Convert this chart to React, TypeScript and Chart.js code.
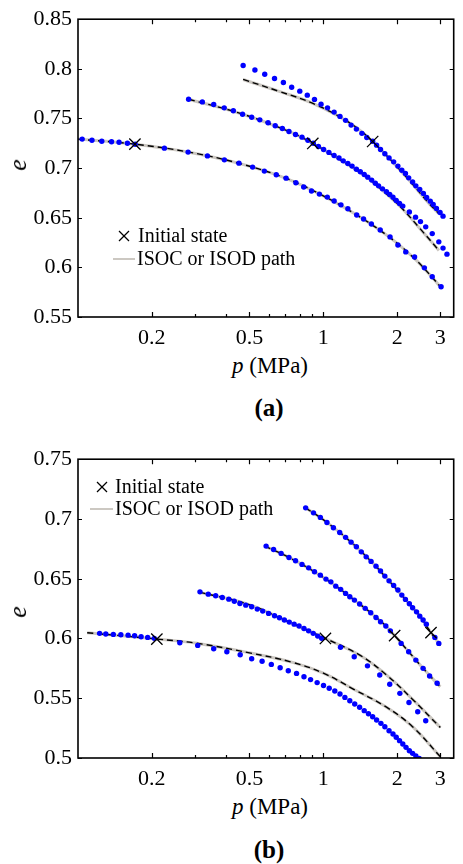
import React, { useEffect, useRef } from 'react';
import { Chart, registerables } from 'chart.js';
Chart.register(...registerables);

const FONT = "'Liberation Serif', Tinos, 'Times New Roman', 'DejaVu Serif', serif";
const BLUE = '#0000ff';
const GRAY = 'rgb(204,200,194)';

// ---------- axes ----------
const X_MIN = 0.1;
const X_MAX = 3.4;
const X_TICKS = [0.2, 0.3, 0.4, 0.5, 0.6, 0.7, 0.8, 0.9, 1, 2, 3];
const X_LABELED = [0.2, 0.5, 1, 2, 3];
const YA_TICKS = [0.55, 0.6, 0.65, 0.7, 0.75, 0.8, 0.85];
const YB_TICKS = [0.5, 0.55, 0.6, 0.65, 0.7, 0.75];

// ---------- panel (a) ----------
const A1_P = [0.104, 0.114, 0.125, 0.137, 0.147, 0.159, 0.171, 0.225, 0.281, 0.337, 0.395, 0.453, 0.515, 0.575, 0.643, 0.705, 0.773, 0.832, 0.895, 0.964, 1.038, 1.107, 1.18, 1.259, 1.368, 1.459, 1.57, 1.706, 1.871, 2.014, 2.168, 2.355, 2.582, 2.78, 3.02];
const A1_E = [0.7292, 0.7281, 0.7271, 0.7266, 0.7261, 0.7251, 0.7241, 0.7201, 0.7161, 0.7123, 0.7083, 0.705, 0.701, 0.697, 0.6933, 0.6899, 0.6852, 0.6809, 0.6769, 0.6738, 0.6708, 0.6668, 0.663, 0.659, 0.6527, 0.6487, 0.6437, 0.6377, 0.6307, 0.6226, 0.6156, 0.6105, 0.5995, 0.5906, 0.5805];
const A1_LP = [0.1, 0.1706, 0.28, 0.45, 0.7, 1.0, 1.37, 1.87, 2.35, 2.8, 3.02];
const A1_LE = [0.7292, 0.7241, 0.7163, 0.705, 0.69, 0.672, 0.6527, 0.63, 0.609, 0.589, 0.5795];

const A2_P = [0.2824, 0.3212, 0.3574, 0.3945, 0.4297, 0.4686, 0.5105, 0.551, 0.5954, 0.6368, 0.6808, 0.7244, 0.7704, 0.8187, 0.8653, 0.91, 0.955, 1.0028, 1.0539, 1.1066, 1.1588, 1.2056, 1.2589, 1.3098, 1.364, 1.4152, 1.4683, 1.5178, 1.5747, 1.6293, 1.6796, 1.7426, 1.8079, 1.8655, 1.9231, 1.9825, 2.0455, 2.1086, 2.2426, 2.3768, 2.4889, 2.6144, 2.7797, 2.9566, 3.0761, 3.1915];
const A2_E = [0.7694, 0.7667, 0.7641, 0.7607, 0.7577, 0.7543, 0.7513, 0.7486, 0.7457, 0.7427, 0.7399, 0.7369, 0.7339, 0.7312, 0.7281, 0.725, 0.7218, 0.7188, 0.7158, 0.7127, 0.7101, 0.7073, 0.7047, 0.702, 0.6989, 0.6963, 0.6936, 0.6909, 0.6879, 0.6848, 0.6821, 0.6791, 0.6761, 0.6735, 0.6707, 0.6674, 0.6644, 0.6617, 0.6559, 0.6506, 0.6461, 0.6408, 0.634, 0.6257, 0.6194, 0.6133];
const A2_LP = [0.283, 0.47, 0.7244, 0.906, 1.2, 1.5, 1.8, 2.1, 2.5, 2.96];
const A2_LE = [0.7694, 0.7543, 0.7369, 0.7248, 0.7068, 0.691, 0.6745, 0.659, 0.638, 0.617];

const A3_P = [0.4712, 0.5262, 0.5771, 0.6326, 0.6875, 0.743, 0.8017, 0.8604, 0.9204, 0.979, 1.0404, 1.1066, 1.1695, 1.2325, 1.2977, 1.364, 1.4362, 1.5038, 1.589, 1.649, 1.7108, 1.7815, 1.8535, 1.9355, 2.0137, 2.0893, 2.1618, 2.2284, 2.3121, 2.3835, 2.4729, 2.5586, 2.6376, 2.729, 2.8054, 2.892, 2.9923, 3.0761];
const A3_E = [0.8034, 0.7989, 0.7946, 0.7903, 0.7863, 0.7815, 0.7775, 0.7735, 0.7692, 0.7644, 0.7607, 0.7564, 0.7521, 0.7481, 0.7433, 0.7393, 0.735, 0.7309, 0.727, 0.7231, 0.7188, 0.7144, 0.7103, 0.7063, 0.702, 0.6979, 0.6946, 0.6902, 0.6861, 0.6821, 0.6785, 0.6745, 0.6704, 0.6667, 0.6634, 0.6594, 0.6553, 0.6516];
const A3_LP = [0.4712, 0.6565, 0.9204, 1.2906, 1.589, 2.1737, 2.6966, 2.9566];
const A3_LE = [0.7893, 0.7775, 0.7645, 0.745, 0.7268, 0.6912, 0.6644, 0.6543];

const A_CROSS_P = [0.1706, 0.906, 1.589];
const A_CROSS_E = [0.7241, 0.7248, 0.7268];

// ---------- panel (b) ----------
const B1_P = [0.1225, 0.1298, 0.1393, 0.1495, 0.16, 0.1701, 0.1808, 0.1923, 0.2046, 0.26, 0.3076, 0.3574, 0.4044, 0.4583, 0.5105, 0.563, 0.6138, 0.6668, 0.7197, 0.7778, 0.834, 0.8872, 0.9437, 1.0018, 1.0568, 1.1137, 1.1695, 1.2246, 1.2823, 1.3428, 1.406, 1.4683, 1.5276, 1.5889, 1.649, 1.7172, 1.7815, 1.8535, 1.9231, 1.9825, 2.0455, 2.1086, 2.1737, 2.2426, 2.3121, 2.3835, 2.4593];
const B1_E = [0.6043, 0.6037, 0.6034, 0.6031, 0.6028, 0.6023, 0.6014, 0.6009, 0.6001, 0.5964, 0.5942, 0.5914, 0.5889, 0.5864, 0.583, 0.5809, 0.5783, 0.5755, 0.573, 0.5708, 0.568, 0.5656, 0.5631, 0.5606, 0.5583, 0.556, 0.5535, 0.5507, 0.5479, 0.5452, 0.5424, 0.5396, 0.537, 0.5345, 0.5318, 0.529, 0.5262, 0.5228, 0.5201, 0.5173, 0.5145, 0.5117, 0.5089, 0.5061, 0.5039, 0.5017, 0.4997];
const B1_LP = [0.109, 0.21, 0.3, 0.5, 0.75, 1.0, 1.33, 1.81, 2.31, 3.0];
const B1_LE = [0.6048, 0.5995, 0.5962, 0.588, 0.58, 0.571, 0.5575, 0.5425, 0.5262, 0.5011];

const B2_P = [0.3142, 0.3396, 0.3641, 0.3873, 0.4119, 0.4337, 0.4571, 0.4831, 0.5105, 0.5381, 0.5662, 0.5984, 0.6326, 0.6625, 0.6937, 0.7264, 0.7606, 0.7964, 0.834, 0.871, 0.9095, 0.9489, 0.9845, 1.1749, 1.3366, 1.5136, 1.6982, 1.8655, 2.0512, 2.2346, 2.4255, 2.6144];
const B2_E = [0.639, 0.6371, 0.6357, 0.6343, 0.6329, 0.6312, 0.6293, 0.6279, 0.6265, 0.6246, 0.6229, 0.621, 0.619, 0.6173, 0.6154, 0.6137, 0.612, 0.6104, 0.6084, 0.6064, 0.6043, 0.602, 0.6001, 0.5926, 0.5847, 0.5771, 0.5694, 0.5617, 0.5541, 0.5464, 0.5387, 0.5312];
const B2_LP = [0.3124, 0.495, 0.72, 1.02, 1.4152, 1.8079, 2.3121, 3.0];
const B2_LE = [0.6388, 0.6285, 0.614, 0.6, 0.5858, 0.5695, 0.549, 0.5255];

const B3_P = [0.5845, 0.6269, 0.673, 0.7244, 0.7704, 0.8187, 0.871, 0.9204, 0.9727, 1.0252, 1.0735, 1.124, 1.177, 1.2325, 1.2823, 1.3391, 1.406, 1.4819, 1.5603, 1.6399, 1.7108, 1.798, 1.8761, 2.0763, 2.2284, 2.3835, 2.5515, 2.7116, 2.9107];
const B3_E = [0.6773, 0.6745, 0.6712, 0.6678, 0.665, 0.662, 0.6591, 0.6558, 0.653, 0.6497, 0.6474, 0.6438, 0.6411, 0.6377, 0.6349, 0.6321, 0.6288, 0.6252, 0.6215, 0.6176, 0.614, 0.6104, 0.6064, 0.5959, 0.5889, 0.5819, 0.575, 0.5686, 0.5625];
const B3_LP = [0.5771, 0.7244, 0.9204, 1.124, 1.3391, 1.5603, 1.798, 1.953, 2.2284, 2.5515, 3.0];
const B3_LE = [0.6773, 0.6678, 0.6558, 0.6438, 0.6321, 0.6215, 0.6104, 0.6024, 0.5889, 0.575, 0.5595];

const B4_P = [0.8472, 0.912, 0.9727, 1.0347, 1.0995, 1.1663, 1.2325, 1.2977, 1.364, 1.4283, 1.4955, 1.5657, 1.6399, 1.7108, 1.7815, 1.8535, 1.9355, 2.0137, 2.0893, 2.1618, 2.2426, 2.3121, 2.3988, 2.4729, 2.5515, 2.6303, 2.8497, 2.9566];
const B4_E = [0.7093, 0.7051, 0.7013, 0.6971, 0.6926, 0.6887, 0.6846, 0.6806, 0.6767, 0.6725, 0.6683, 0.6645, 0.6605, 0.6564, 0.6522, 0.6482, 0.6444, 0.6405, 0.6363, 0.6327, 0.629, 0.6257, 0.6223, 0.6187, 0.6154, 0.612, 0.6009, 0.5959];
const B4_LP = [0.8472, 1.0347, 1.2977, 1.5657, 1.8535, 2.1618, 2.4729, 2.747, 3.0];
const B4_LE = [0.7093, 0.6971, 0.6806, 0.6645, 0.6482, 0.6327, 0.6187, 0.6049, 0.594];

const B_CROSS_P = [0.2096, 1.02, 1.953, 2.747];
const B_CROSS_E = [0.5995, 0.6, 0.6024, 0.6049];

type Curve = { dp: number[]; de: number[]; lp: number[]; le: number[] };

const CURVES_A: Curve[] = [
  { dp: A1_P, de: A1_E, lp: A1_LP, le: A1_LE },
  { dp: A2_P, de: A2_E, lp: A2_LP, le: A2_LE },
  { dp: A3_P, de: A3_E, lp: A3_LP, le: A3_LE },
];
const CURVES_B: Curve[] = [
  { dp: B1_P, de: B1_E, lp: B1_LP, le: B1_LE },
  { dp: B2_P, de: B2_E, lp: B2_LP, le: B2_LE },
  { dp: B3_P, de: B3_E, lp: B3_LP, le: B3_LE },
  { dp: B4_P, de: B4_E, lp: B4_LP, le: B4_LE },
];

const toPts = (p: number[], e: number[]) => p.map((x, i) => ({ x, y: e[i] }));

const frameTicks = {
  id: 'frameTicks',
  afterDraw(chart: any) {
    const ctx = chart.ctx;
    const a = chart.chartArea;
    const xs = chart.scales.x;
    const ys = chart.scales.y;
    ctx.save();
    ctx.strokeStyle = '#000';
    ctx.lineWidth = 1.2;
    ctx.beginPath();
    for (const v of X_TICKS) {
      const px = Math.round(xs.getPixelForValue(v)) + 0.5;
      const len = X_LABELED.includes(v) ? 5 : 3;
      ctx.moveTo(px, a.bottom);
      ctx.lineTo(px, a.bottom - len);
      ctx.moveTo(px, a.top);
      ctx.lineTo(px, a.top + len);
    }
    for (const t of ys.ticks) {
      const py = Math.round(ys.getPixelForValue(t.value)) + 0.5;
      ctx.moveTo(a.left, py);
      ctx.lineTo(a.left + 4, py);
      ctx.moveTo(a.right, py);
      ctx.lineTo(a.right - 4, py);
    }
    ctx.stroke();
    ctx.lineWidth = 1.6;
    ctx.strokeRect(a.left, a.top, a.right - a.left, a.bottom - a.top);
    ctx.restore();
  },
};

function Panel(props: {
  top: number;
  height: number;
  curves: Curve[];
  crossP: number[];
  crossE: number[];
  yMin: number;
  yMax: number;
  yTicks: number[];
}) {
  const ref = useRef<HTMLCanvasElement>(null);
  useEffect(() => {
    if (!ref.current) return;
    const datasets: any[] = [];
    props.curves.forEach((c) =>
      datasets.push({
        data: toPts(c.lp, c.le),
        showLine: true,
        borderColor: GRAY,
        borderWidth: 3,
        pointRadius: 0,
        tension: 0.4,
        order: 4,
      })
    );
    props.curves.forEach((c) =>
      datasets.push({
        data: toPts(c.lp, c.le),
        showLine: true,
        borderColor: '#000',
        borderWidth: 1.4,
        borderDash: [6, 4],
        pointRadius: 0,
        tension: 0.4,
        order: 3,
      })
    );
    props.curves.forEach((c) =>
      datasets.push({
        data: toPts(c.dp, c.de),
        showLine: false,
        pointRadius: 2.7,
        pointBackgroundColor: BLUE,
        pointBorderWidth: 0,
        order: 2,
      })
    );
    datasets.push({
      data: toPts(props.crossP, props.crossE),
      showLine: false,
      pointStyle: 'crossRot',
      pointRadius: 8,
      pointBorderColor: '#000',
      pointBorderWidth: 1.3,
      order: 1,
    });
    const chart = new Chart(ref.current, {
      type: 'scatter',
      data: { datasets },
      plugins: [frameTicks],
      options: {
        animation: false,
        responsive: false,
        layout: { padding: { top: 19, right: 1, left: 0, bottom: 0 } },
        plugins: { legend: { display: false }, tooltip: { enabled: false } },
        scales: {
          x: {
            type: 'logarithmic',
            min: X_MIN,
            max: X_MAX,
            grid: { display: false, drawTicks: false },
            border: { display: false },
            afterBuildTicks: (s: any) => {
              s.ticks = X_TICKS.map((v) => ({ value: v }));
            },
            afterFit: (s: any) => {
              s.height = 33;
            },
            ticks: {
              autoSkip: false,
              maxRotation: 0,
              padding: 8,
              color: '#000',
              font: { family: FONT, size: 22 },
              callback: (v: any) => (X_LABELED.includes(Number(v)) ? String(v) : ''),
            },
          },
          y: {
            type: 'linear',
            min: props.yMin,
            max: props.yMax,
            grid: { display: false, drawTicks: false },
            border: { display: false },
            afterBuildTicks: (s: any) => {
              s.ticks = props.yTicks.map((v) => ({ value: v }));
            },
            afterFit: (s: any) => {
              s.width = 78;
            },
            ticks: {
              padding: 6,
              color: '#000',
              font: { family: FONT, size: 22 },
              callback: (v: any) => String(v),
            },
          },
        },
      },
    });
    return () => chart.destroy();
  }, []);
  return (
    <canvas
      ref={ref}
      width={463}
      height={props.height}
      style={{ position: 'absolute', left: 0, top: props.top, width: 463, height: props.height }}
    />
  );
}

const abs = (s: any) => ({ position: 'absolute' as const, ...s });

function CrossMark({ cx, cy }: { cx: number; cy: number }) {
  return (
    <svg width={12} height={12} style={abs({ left: cx - 6, top: cy - 6 })}>
      <line x1={1} y1={1} x2={11} y2={11} stroke="#000" strokeWidth={1.3} />
      <line x1={11} y1={1} x2={1} y2={11} stroke="#000" strokeWidth={1.3} />
    </svg>
  );
}

function Legend({ cx, cy, lx1, lx2, ly, tx1, tx2 }: any) {
  const txt = { fontFamily: FONT, fontSize: 20, lineHeight: '24px', color: '#000', whiteSpace: 'nowrap' as const };
  return (
    <>
      <CrossMark cx={cx} cy={cy} />
      <div style={abs({ left: tx1, top: cy - 13, ...txt })}>Initial state</div>
      <div style={abs({ left: lx1, top: ly - 1, width: lx2 - lx1, height: 2, background: GRAY })} />
      <div style={abs({ left: tx2, top: ly - 13, ...txt })}>ISOC or ISOD path</div>
    </>
  );
}

function Texts({ eY, titleY, capY, cap }: any) {
  return (
    <>
      <div
        style={abs({
          left: 18,
          top: eY,
          transform: 'translate(-50%,-50%) rotate(-90deg)',
          fontFamily: FONT,
          fontStyle: 'italic',
          fontSize: 26,
          lineHeight: '26px',
        })}
      >
        e
      </div>
      <div
        style={abs({
          left: 270,
          top: titleY,
          transform: 'translate(-50%,-50%)',
          fontFamily: FONT,
          fontSize: 23,
          lineHeight: '26px',
          whiteSpace: 'nowrap',
        })}
      >
        <i>p</i> (MPa)
      </div>
      <div
        style={abs({
          left: 269,
          top: capY,
          transform: 'translate(-50%,-50%)',
          fontFamily: FONT,
          fontWeight: 'bold',
          fontSize: 25,
          lineHeight: '28px',
        })}
      >
        {cap}
      </div>
    </>
  );
}

export default function App() {
  return (
    <div style={abs({ left: 0, top: 0, width: 463, height: 864, background: '#fff', overflow: 'hidden' })}>
      <Panel top={0} height={350} curves={CURVES_A} crossP={A_CROSS_P} crossE={A_CROSS_E} yMin={0.55} yMax={0.85} yTicks={YA_TICKS} />
      <Panel top={440} height={351} curves={CURVES_B} crossP={B_CROSS_P} crossE={B_CROSS_E} yMin={0.5} yMax={0.75} yTicks={YB_TICKS} />
      <Legend cx={124} cy={236} lx1={113} lx2={135} ly={259} tx1={138} tx2={137} />
      <Legend cx={102} cy={487} lx1={90} lx2={113} ly={509} tx1={115} tx2={115} />
      <Texts eY={165} titleY={366} capY={408} cap="(a)" />
      <Texts eY={612} titleY={807} capY={850} cap="(b)" />
    </div>
  );
}
